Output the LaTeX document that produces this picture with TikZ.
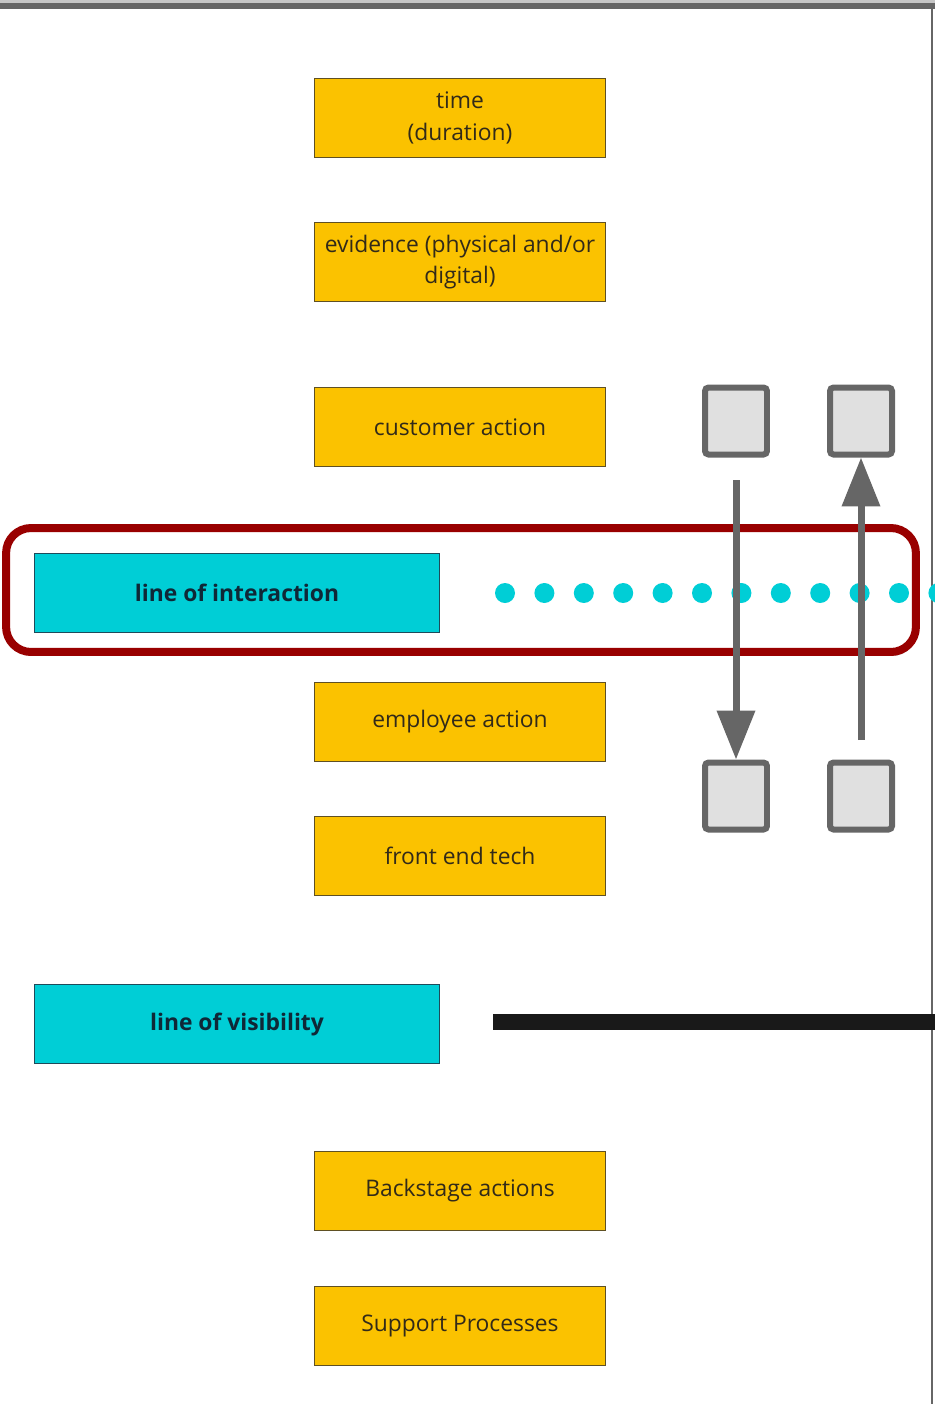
\documentclass[tikz,border=0pt]{standalone}
\usepackage{fontspec}
\setmainfont{Open Sans}
\usepackage{tikz}
\usetikzlibrary{arrows.meta,positioning,shadows}
\definecolor{boxyellow}{RGB}{251,194,0}
\definecolor{boxedge}{RGB}{95,80,35}
\definecolor{linecyan}{RGB}{0,206,214}
\definecolor{cyanedge}{RGB}{30,75,90}
\definecolor{cyantext}{RGB}{15,40,55}
\definecolor{darkred}{RGB}{153,0,0}
\definecolor{tilegray}{RGB}{224,224,224}
\definecolor{arrowgray}{RGB}{102,102,102}
\definecolor{txtdark}{RGB}{50,42,25}
\tikzset{
  stepbox/.style={rectangle,draw=boxedge,line width=1pt,fill=boxyellow,text=txtdark,align=center,minimum width=5.82cm,minimum height=1.58cm,font=\fontsize{13}{18}\selectfont},
  linebox/.style={rectangle,draw=cyanedge,line width=1pt,fill=linecyan,text=cyantext,align=center,minimum width=8.1cm,minimum height=1.58cm,font=\fontsize{13}{18}\selectfont\bfseries},
  tile/.style={rectangle,rounded corners=2pt,draw=arrowgray,fill=tilegray,line width=0.12cm,minimum width=1.24cm,minimum height=1.34cm},
  hilite/.style={rectangle,rounded corners=0.5cm,draw=darkred,line width=0.16cm,fill=white,minimum width=18.2cm,minimum height=2.48cm,drop shadow={opacity=0.35,shadow xshift=0.03cm,shadow yshift=-0.08cm}},
  flowarr/.style={-{Triangle[width=0.74cm,length=0.98cm]},line width=0.14cm,color=arrowgray},
  seamdot/.style={fill=linecyan}
}
\begin{document}
\begin{tikzpicture}[x=0.02cm,y=-0.02cm]
  \useasboundingbox (0,0) rectangle (935,1404);
  \fill[gray!45] (0,0) rectangle (935,3);
  \fill[arrowgray] (0,3) rectangle (935,9);
  \draw[arrowgray,line width=0.04cm] (932,9) -- (932,1404);

  \node[hilite] (focus) at (461,590) {};

  \node[stepbox] (time) at (460,118) {time\\(duration)};
  \node[stepbox] (evid) at (460,262) {evidence (physical and/or\\digital)};
  \node[stepbox] (cust) at (460,427) {customer action};
  \node[linebox] (loi) at (237,593) {line of interaction};
  \node[stepbox] (emp) at (460,722) {employee action};
  \node[stepbox] (front) at (460,856) {front end tech};
  \node[linebox] (lov) at (237,1024) {line of visibility};
  \node[stepbox] (back) at (460,1191) {Backstage actions};
  \node[stepbox] (supp) at (460,1326) {Support Processes};

  \foreach \i in {0,...,11}
    \fill[seamdot] (505+39.4*\i,593) circle (0.2cm);
  \fill[black!90] (493,1014) rectangle (935,1030);

  \node[tile] (c1) at (736,421) {};
  \node[tile] (c2) at (861,421) {};
  \node[tile] (e1) at (736,796) {};
  \node[tile] (e2) at (861,796) {};

  \coordinate (dropstart) at (736,480);
  \coordinate (risestart) at (861,740);
  \draw[flowarr] (dropstart) -- (e1.north);
  \draw[flowarr] (risestart) -- (c2.south);
\end{tikzpicture}
\end{document}
